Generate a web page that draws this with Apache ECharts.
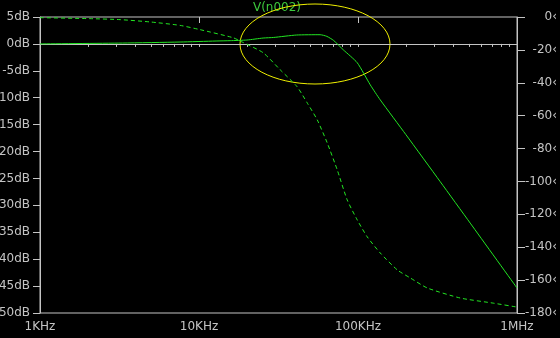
<!DOCTYPE html>
<html>
<head>
<meta charset="utf-8">
<script src="https://cdn.jsdelivr.net/npm/echarts@6/dist/echarts.min.js"></script>
<style>
  html, body { margin: 0; padding: 0; background: #000; }
  #chart { width: 560px; height: 338px; }
</style>
</head>
<body>
<div id="chart"></div>
<script>
// magnitude trace V(n002), dB
const magFreq = [1000, 3300, 7600, 12800, 15700, 20000, 25300, 29500, 41000, 57800, 63700, 70200, 80700, 98900, 119400, 138000, 200000, 329000, 508000, 1000000]
const magDb = [0, 0.16, 0.35, 0.54, 0.6, 0.72, 1.09, 1.2, 1.65, 1.71, 1.4, 0.65, -1.08, -3.5, -7.6, -10.4, -16.85, -25.6, -33.3, -45.35]

// phase trace, degrees (dashed)
const phaseFreq = [1000, 2065, 3190, 4920, 7600, 10160, 16400, 18400, 25300, 32400, 41400, 47900, 55400, 64000, 74000, 85500, 98900, 114300, 138000, 176600, 213400, 273000, 440000, 709000, 1000000]
const phaseDeg = [-0.4, -1.0, -1.6, -3.0, -5.1, -7.7, -12.6, -14.9, -21.7, -32.1, -42.4, -52.2, -62.5, -76.5, -92.9, -111.2, -123.4, -133.7, -143.5, -153.8, -158.7, -164.8, -170.9, -174, -176.4]

// x axis labels
const decades = [1000, 10000, 100000, 1000000]
const decadeLabels = ['1KHz', '10KHz', '100KHz', '1MHz']

// minor ticks 2..9 in each decade
const minorTicks = []
decades.slice(0, 3).forEach((d) => {
  for (let m = 1; m <= 9; m++) minorTicks.push(d * m)
})
minorTicks.push(1000000)

const grey = '#c4c4c4'
const green = '#22e622'
const font = 'DejaVu Sans'

const chart = echarts.init(document.getElementById('chart'))

const option = {
  backgroundColor: '#000',
  animation: false,
  grid: {
    left: 40, right: 43, top: 17, bottom: 25,
    outerBoundsMode: 'none',
    containLabel: false,
    show: true,
    borderColor: grey,
    borderWidth: 1,
    backgroundColor: 'transparent'
  },
  xAxis: [
    {
      type: 'log',
      logBase: 10,
      min: 1000,
      max: 1000000,
      axisLine: { show: true, lineStyle: { color: grey } },
      axisTick: {
        show: true,
        length: 3,
        customValues: minorTicks,
        lineStyle: { color: grey }
      },
      axisLabel: {
        customValues: decades,
        margin: 8,
        color: grey,
        fontFamily: font,
        fontSize: 12,
        formatter: (v) => decadeLabels[decades.indexOf(Math.round(v))] || ''
      },
      splitLine: { show: false }
    },
    {
      type: 'log',
      logBase: 10,
      min: 1000,
      max: 1000000,
      position: 'bottom',
      axisLine: { show: false },
      axisTick: {
        show: true,
        length: 6,
        customValues: decades,
        lineStyle: { color: grey }
      },
      axisLabel: { show: false },
      splitLine: { show: false }
    }
  ],
  yAxis: [
    {
      type: 'value',
      min: -50,
      max: 5,
      interval: 5,
      position: 'left',
      axisLine: { show: true, lineStyle: { color: grey } },
      axisTick: { show: true, length: 7, lineStyle: { color: grey } },
      axisLabel: {
        color: grey,
        fontFamily: font,
        fontSize: 12,
        margin: 10,
        formatter: (v) => v + 'dB'
      },
      splitLine: { show: false }
    },
    {
      type: 'value',
      min: -180,
      max: 0,
      interval: 20,
      position: 'right',
      axisLine: { show: true, lineStyle: { color: grey } },
      axisTick: { show: true, length: 8, lineStyle: { color: grey } },
      axisLabel: {
        color: grey,
        fontFamily: font,
        fontSize: 12,
        margin: 40,
        align: 'right',
        formatter: (v) => v + '‹'
      },
      splitLine: { show: false }
    }
  ],
  series: [
    {
      type: 'line',
      name: 'V(n002)',
      xAxisIndex: 0,
      yAxisIndex: 0,
      data: magFreq.map((f, i) => [f, magDb[i]]),
      showSymbol: false,
      smooth: 0.2,
      lineStyle: { color: green, width: 1 }
    },
    {
      type: 'line',
      name: 'phase',
      xAxisIndex: 0,
      yAxisIndex: 1,
      data: phaseFreq.map((f, i) => [f, phaseDeg[i]]),
      showSymbol: false,
      smooth: 0.2,
      lineStyle: { color: green, width: 1, type: [4, 3] }
    }
  ],
  graphic: [
    {
      type: 'text',
      x: 277,
      y: 8,
      style: {
        text: 'V(n002)',
        fill: '#3cc83c',
        font: '12px "DejaVu Sans"',
        textAlign: 'center',
        textVerticalAlign: 'middle'
      }
    },
    {
      type: 'ellipse',
      shape: { cx: 315, cy: 44, rx: 75, ry: 40 },
      style: { fill: 'none', stroke: '#f0f000', lineWidth: 1 }
    }
  ]
}

chart.setOption(option)
</script>
</body>
</html>
